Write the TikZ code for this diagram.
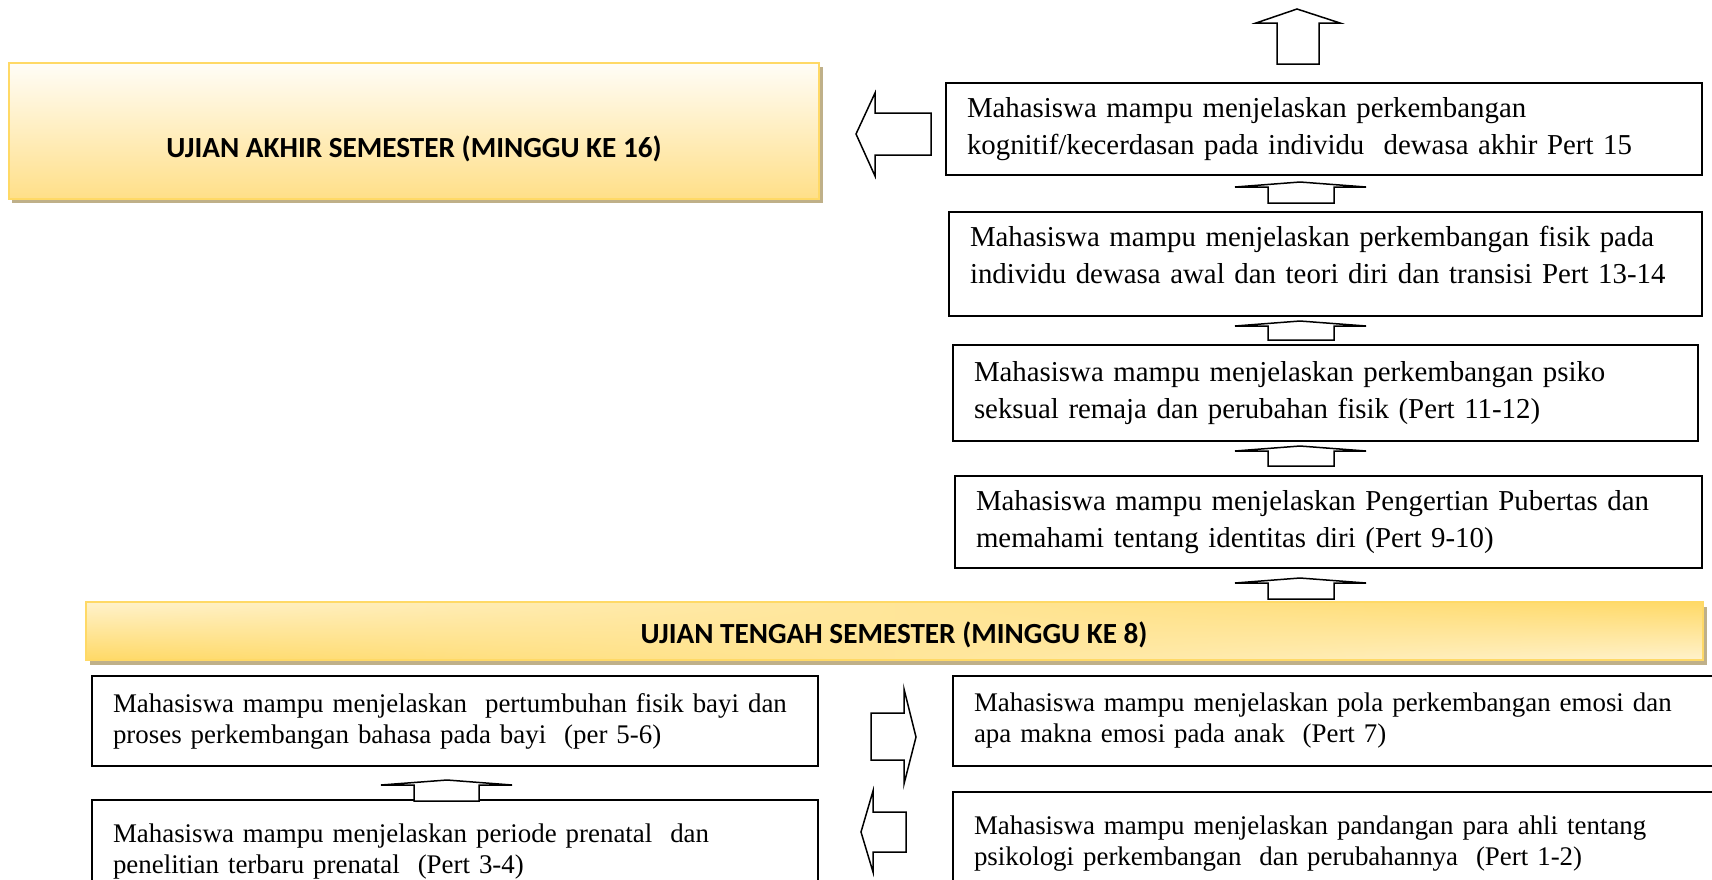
\documentclass[tikz,border=0pt]{standalone}
\usepackage{fontspec}
\usetikzlibrary{shadings}
\setmainfont{Liberation Serif}
\newfontfamily\carlito{Carlito}
\definecolor{goldline}{HTML}{FFD966}
\definecolor{goldlight}{HTML}{FFF2CC}
\definecolor{golddark}{HTML}{FFD966}
\definecolor{uastop}{HTML}{FFFDF7}
\definecolor{uasbot}{HTML}{FFDF88}
\definecolor{shadowc}{HTML}{BFB089}
\begin{document}
\begin{tikzpicture}[x=1pt,y=-1pt,
  tbox/.style={draw=black, line width=1.4pt, anchor=north west, inner xsep=21pt, inner ysep=0pt, outer sep=0pt, align=left},
  bigtxt/.style={font=\fontsize{28.85pt}{37pt}\selectfont},
  smalltxt/.style={font=\fontsize{26.9pt}{31pt}\selectfont},
  blockarrow/.style={draw=black, line width=1.5pt, fill=white, line join=miter},
  examtitle/.style={font=\carlito\bfseries\fontsize{29.2pt}{35pt}\selectfont, inner sep=0pt},
  goldbox/.style={draw=goldline, line width=2pt, anchor=north west, inner sep=0pt, outer sep=0pt}
]
\clip (0,0) rectangle (1712,879);
\fill[white] (0,0) rectangle (1712,879);

% UAS box
\fill[shadowc] (12,67) rectangle (823,203);
\node[goldbox, top color=uastop, bottom color=uasbot, minimum width=810pt, minimum height=136pt] (uas) at (9,63) {};
\node[examtitle] (uastext) at (414,149) {UJIAN AKHIR SEMESTER (MINGGU KE 16)};

% UTS bar
\fill[shadowc] (90,607) rectangle (1707,665);
\node[goldbox, upper left=goldlight, lower left=golddark, upper right=golddark, lower right=goldlight, minimum width=1617pt, minimum height=58pt] (uts) at (86,602) {};
\node[examtitle] (utstext) at (894,635) {UJIAN TENGAH SEMESTER (MINGGU KE 8)};

% right column boxes
\node[tbox, bigtxt, text width=714pt, minimum height=92pt] (p15) at (946,83) {Mahasiswa mampu menjelaskan perkembangan\\kognitif/kecerdasan pada individu\ \ dewasa akhir Pert 15};
\node[tbox, bigtxt, text width=711pt, minimum height=104pt] (p13) at (949,212) {Mahasiswa mampu menjelaskan perkembangan fisik pada\\individu dewasa awal dan teori diri dan transisi Pert 13-14\par\hrule height 18pt depth 0pt width 0pt};
\node[tbox, bigtxt, text width=703pt, minimum height=96pt] (p11) at (953,345) {Mahasiswa mampu menjelaskan perkembangan psiko\\seksual remaja dan perubahan fisik (Pert 11-12)};
\node[tbox, bigtxt, text width=705pt, minimum height=92pt] (p9) at (955,476) {Mahasiswa mampu menjelaskan Pengertian Pubertas dan\\memahami tentang identitas diri (Pert 9-10)};

% bottom boxes
\node[tbox, smalltxt, text width=684pt, minimum height=90pt] (p5) at (92,676) {Mahasiswa mampu menjelaskan\ \ pertumbuhan fisik bayi dan\\proses perkembangan bahasa pada bayi\ \ (per 5-6)};
\node[tbox, smalltxt, text width=684pt, minimum height=103pt] (p3) at (92,800) {Mahasiswa mampu menjelaskan periode prenatal\ \ dan\\penelitian terbaru prenatal\ \ (Pert 3-4)};
\node[tbox, smalltxt, text width=725pt, minimum height=90pt] (p7) at (953,676) {Mahasiswa mampu menjelaskan pola perkembangan emosi dan\\apa makna emosi pada anak\ \ (Pert 7)};
\node[tbox, smalltxt, text width=725pt, minimum height=103pt] (p1) at (953,792) {Mahasiswa mampu menjelaskan pandangan para ahli tentang\\psikologi perkembangan\ \ dan perubahannya\ \ (Pert 1-2)};

% block arrows
\draw[blockarrow] (1277,64) -- (1277,23) -- (1256,23) -- (1297,9) -- (1340,23) -- (1319,23) -- (1319,64) -- cycle;
\draw[blockarrow] (931,113) -- (875,113) -- (875,93) -- (856,134) -- (875,176) -- (875,155) -- (931,155) -- cycle;
\draw[blockarrow] (1268,203) -- (1268,187) -- (1235,187) -- (1300,182) -- (1366,187) -- (1334,187) -- (1334,203) -- cycle;
\draw[blockarrow] (1268,340) -- (1268,326) -- (1235,326) -- (1300,321) -- (1366,326) -- (1334,326) -- (1334,340) -- cycle;
\draw[blockarrow] (1268,466) -- (1268,451) -- (1235,451) -- (1300,446) -- (1366,451) -- (1334,451) -- (1334,466) -- cycle;
\draw[blockarrow] (1268,599) -- (1268,583) -- (1235,583) -- (1300,578) -- (1366,583) -- (1334,583) -- (1334,599) -- cycle;
\draw[blockarrow] (871,713) -- (904,713) -- (904,689) -- (916,737) -- (904,784) -- (904,760) -- (871,760) -- cycle;
\draw[blockarrow] (906,812) -- (873,812) -- (873,791) -- (861,832) -- (873,872) -- (873,852) -- (906,852) -- cycle;
\draw[blockarrow] (414,801) -- (414,785) -- (381,785) -- (447,780) -- (512,785) -- (479,785) -- (479,801) -- cycle;
\end{tikzpicture}
\end{document}
